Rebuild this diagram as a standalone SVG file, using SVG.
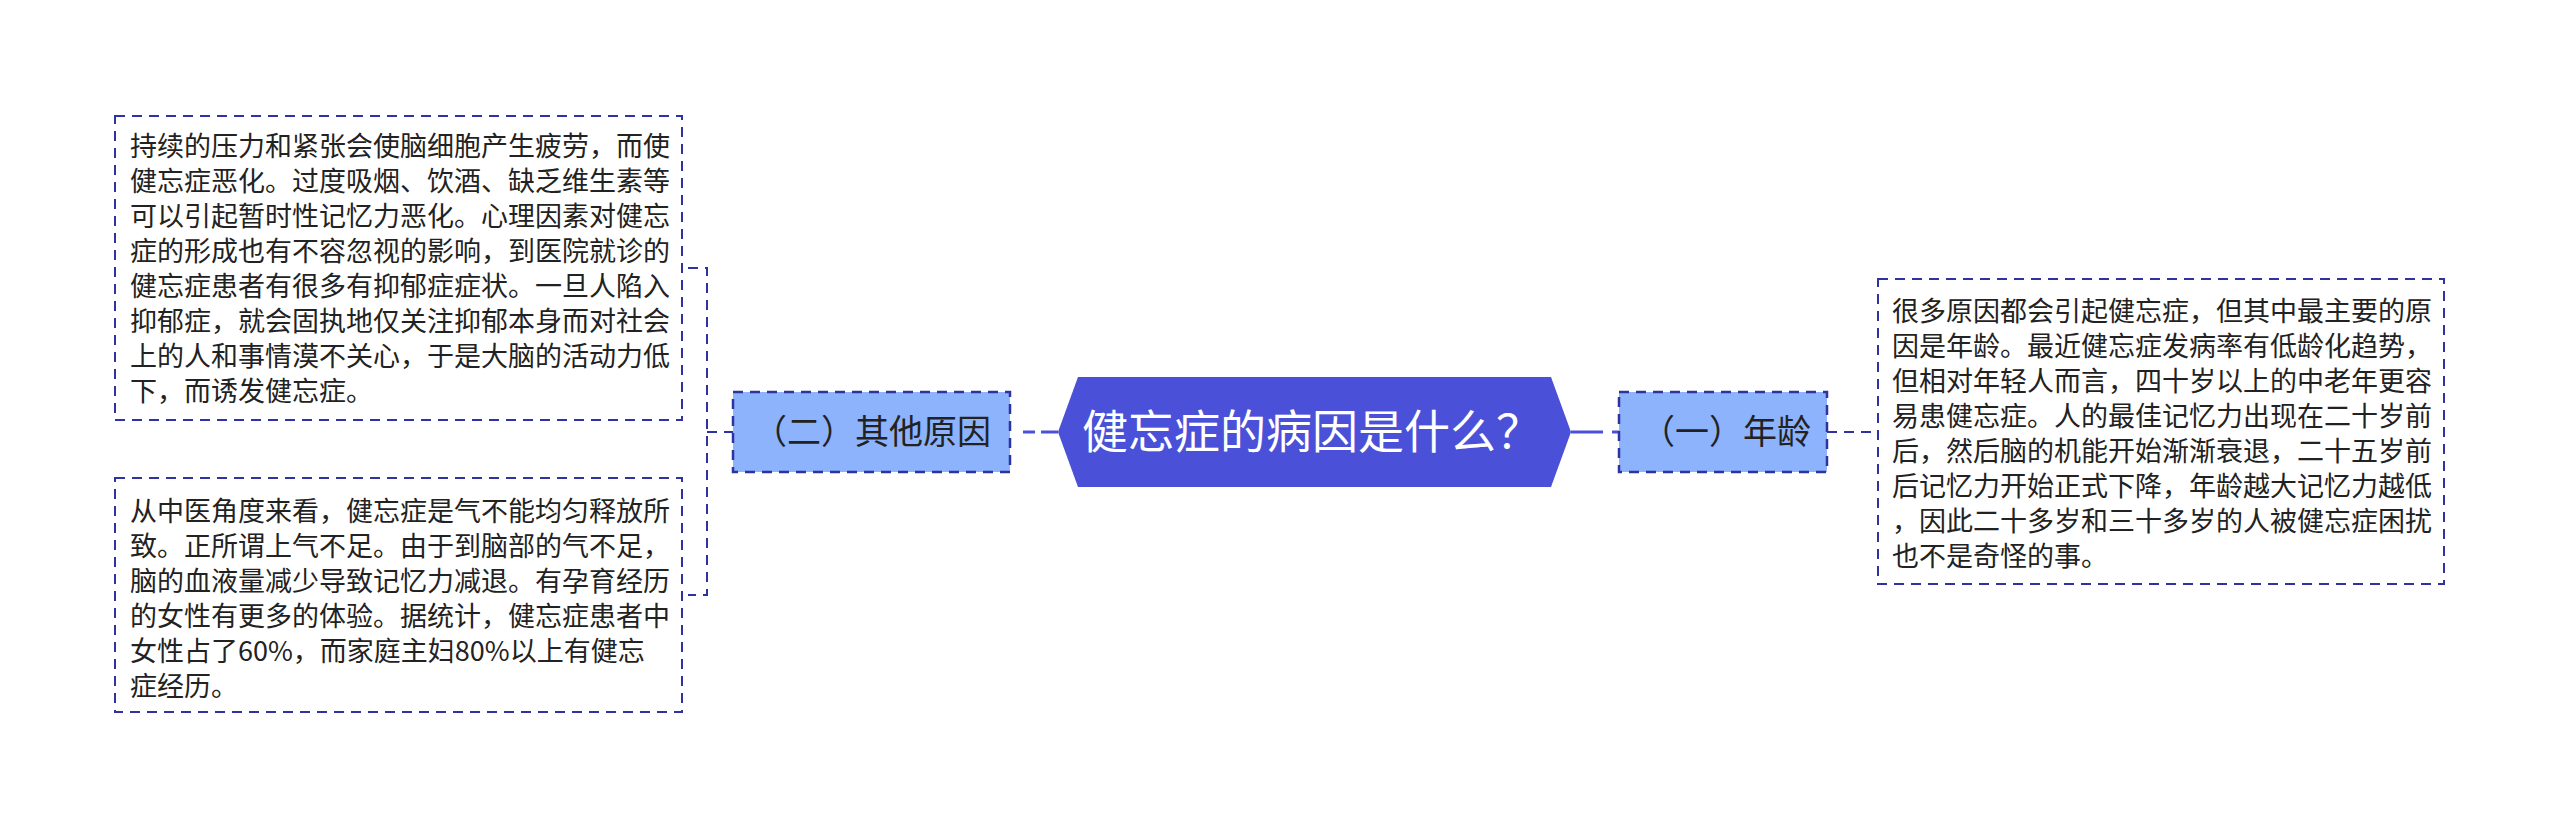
<svg xmlns="http://www.w3.org/2000/svg" width="2560" height="829" viewBox="0 0 2560 829">
<style>
.bg{fill:#ffffff}
.note{fill:#ffffff;stroke:#2f33a0;stroke-width:2;stroke-dasharray:10 7}
.sub{fill:#8db3fc;stroke:#2f33a0;stroke-width:2.5;stroke-dasharray:10 7}
.hex{fill:#4a51d8}
.t{font-family:"Noto Sans CJK SC","Noto Sans",sans-serif;fill:#222222}
.nt{font-size:27px}
.st{font-size:34px;text-anchor:middle}
.ct{font-size:46px;text-anchor:middle;fill:#ffffff}
.dash{fill:none;stroke:#2f33a0;stroke-width:2;stroke-dasharray:10 7}
.solid{fill:none;stroke:#4a51d8;stroke-width:3}
</style>
<rect class="bg" x="0" y="0" width="2560" height="829"/>
<g id="connectors">
  <path class="dash" d="M688,268 H707 V595 H688"/>
  <path class="dash" d="M707,432 H733"/>
  <path class="solid" d="M1058,432 H1041 M1035,432 H1023"/>
  <path class="solid" d="M1571,432 H1603 M1612,432 H1619"/>
  <path class="dash" d="M1827,432 H1878"/>
</g>
<g id="center">
  <polygon class="hex" points="1058,432 1078,377 1551,377 1571,432 1551,487 1078,487"/>
  <text class="t ct" x="1312" y="448">健忘症的病因是什么？</text>
</g>
<g id="sub-other">
  <rect class="sub" x="733" y="392" width="277" height="80"/>
  <text class="t st" x="872" y="444">（二）其他原因</text>
</g>
<g id="sub-age">
  <rect class="sub" x="1619" y="392" width="208" height="80"/>
  <text class="t st" x="1726" y="444">（一）年龄</text>
</g>
<g id="note-stress">
  <rect class="note" x="115" y="116" width="567" height="304"/>
  <text class="t nt" x="130" y="156">
    <tspan x="130" dy="0">持续的压力和紧张会使脑细胞产生疲劳，而使</tspan>
    <tspan x="130" dy="35">健忘症恶化。过度吸烟、饮酒、缺乏维生素等</tspan>
    <tspan x="130" dy="35">可以引起暂时性记忆力恶化。心理因素对健忘</tspan>
    <tspan x="130" dy="35">症的形成也有不容忽视的影响，到医院就诊的</tspan>
    <tspan x="130" dy="35">健忘症患者有很多有抑郁症症状。一旦人陷入</tspan>
    <tspan x="130" dy="35">抑郁症，就会固执地仅关注抑郁本身而对社会</tspan>
    <tspan x="130" dy="35">上的人和事情漠不关心，于是大脑的活动力低</tspan>
    <tspan x="130" dy="35">下，而诱发健忘症。</tspan>
  </text>
</g>
<g id="note-tcm">
  <rect class="note" x="115" y="478" width="567" height="234"/>
  <text class="t nt" x="130" y="521">
    <tspan x="130" dy="0">从中医角度来看，健忘症是气不能均匀释放所</tspan>
    <tspan x="130" dy="35">致。正所谓上气不足。由于到脑部的气不足，</tspan>
    <tspan x="130" dy="35">脑的血液量减少导致记忆力减退。有孕育经历</tspan>
    <tspan x="130" dy="35">的女性有更多的体验。据统计，健忘症患者中</tspan>
    <tspan x="130" dy="35">女性占了60%，而家庭主妇80%以上有健忘</tspan>
    <tspan x="130" dy="35">症经历。</tspan>
  </text>
</g>
<g id="note-age">
  <rect class="note" x="1878" y="279" width="566" height="305"/>
  <text class="t nt" x="1892" y="321">
    <tspan x="1892" dy="0">很多原因都会引起健忘症，但其中最主要的原</tspan>
    <tspan x="1892" dy="35">因是年龄。最近健忘症发病率有低龄化趋势，</tspan>
    <tspan x="1892" dy="35">但相对年轻人而言，四十岁以上的中老年更容</tspan>
    <tspan x="1892" dy="35">易患健忘症。人的最佳记忆力出现在二十岁前</tspan>
    <tspan x="1892" dy="35">后，然后脑的机能开始渐渐衰退，二十五岁前</tspan>
    <tspan x="1892" dy="35">后记忆力开始正式下降，年龄越大记忆力越低</tspan>
    <tspan x="1892" dy="35">，因此二十多岁和三十多岁的人被健忘症困扰</tspan>
    <tspan x="1892" dy="35">也不是奇怪的事。</tspan>
  </text>
</g>
</svg>
